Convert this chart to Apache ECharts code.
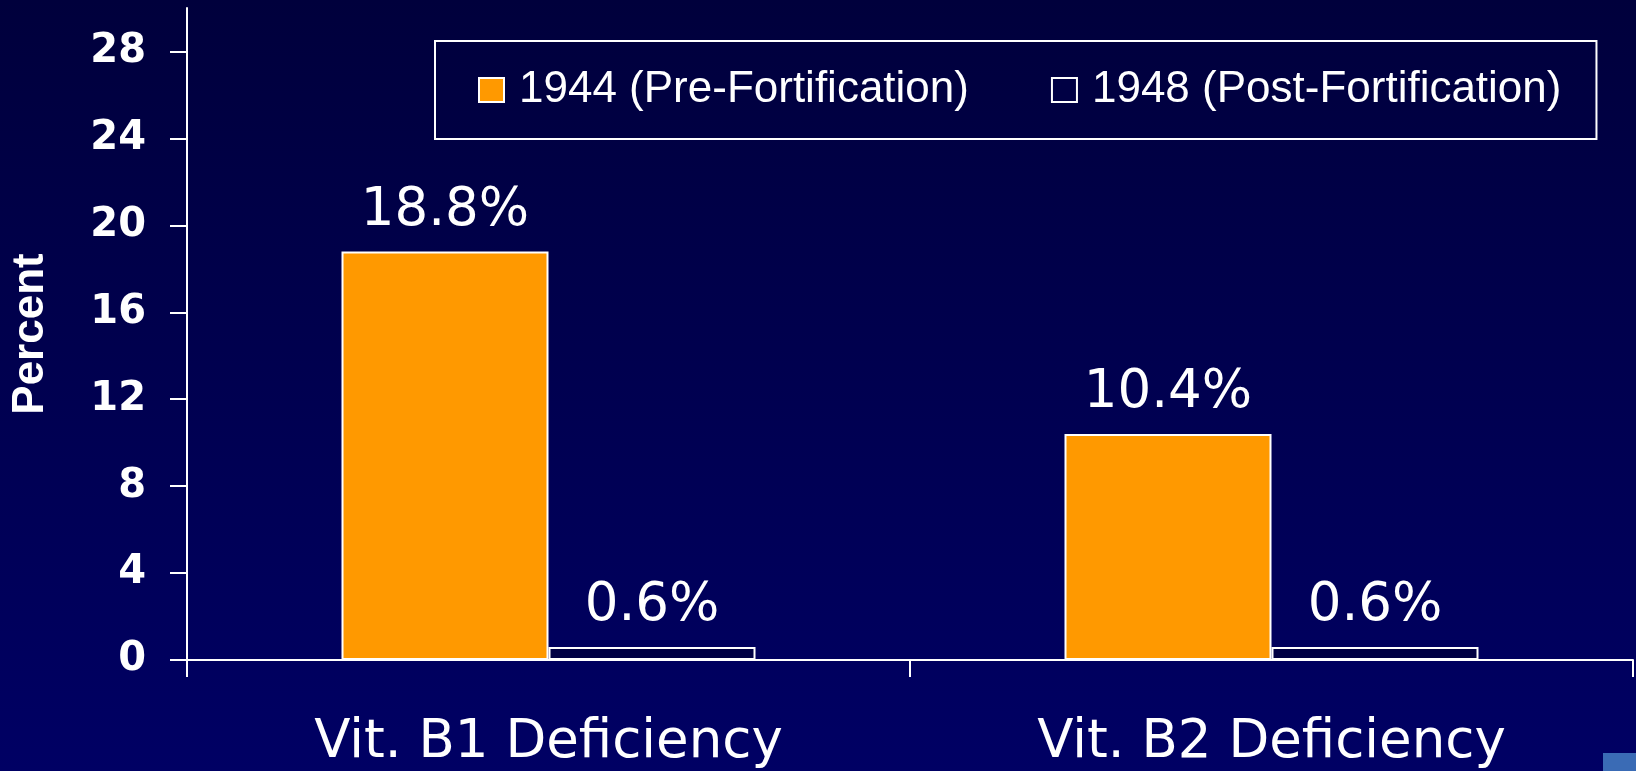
<!DOCTYPE html>
<html>
<head>
<meta charset="utf-8">
<title>Vitamin deficiency before and after fortification</title>
<style>
    html, body { margin: 0; padding: 0; }
    body { background: linear-gradient(to bottom, #00003c, #000064); }
    #main { width: 1636px; height: 771px; }
</style>
</head>
<body>
<div id="main"></div>
<script src="https://cdn.jsdelivr.net/npm/echarts@6/dist/echarts.min.js"></script>
<script type="text/javascript">
    // data
    var categories = ['Vit. B1 Deficiency', 'Vit. B2 Deficiency'];
    var pre1944 = [18.8, 10.4];
    var post1948 = [0.6, 0.6];
    var yTicks = [0, 4, 8, 12, 16, 20, 24, 28];
    var seriesNames = ['1944 (Pre-Fortification)', '1948 (Post-Fortification)'];

    var myChart = echarts.init(document.getElementById('main'));

    var barLabel = {
        show: true,
        position: 'top',
        distance: 14,
        color: '#fff',
        fontFamily: 'DejaVu Sans',
        fontSize: 53,
        formatter: '{c}%'
    };

    var option = {
        backgroundColor: 'transparent',
        animation: false,
        grid: { left: 187, right: 3, top: 8, bottom: 111, outerBoundsMode: 'none', containLabel: false },
        legend: {
            left: 435,
            top: 41,
            padding: [27, 35, 27, 43],
            borderColor: '#fff',
            borderWidth: 2,
            itemWidth: 25,
            itemHeight: 24,
            itemGap: 82,
            icon: 'rect',
            textStyle: {
                color: '#fff',
                fontFamily: 'Liberation Sans',
                fontSize: 44,
                padding: [0, 0, 0, 10]
            },
            data: seriesNames
        },
        xAxis: {
            type: 'category',
            data: categories,
            axisLine: { lineStyle: { color: '#fff', width: 2 } },
            axisTick: { show: true, length: 17, lineStyle: { color: '#fff', width: 2 } },
            axisLabel: {
                color: '#fff',
                fontFamily: 'DejaVu Sans',
                fontSize: 53,
                margin: 57
            }
        },
        yAxis: {
            type: 'value',
            min: 0,
            max: 30,
            interval: 4,
            name: 'Percent',
            nameLocation: 'middle',
            nameRotate: 90,
            nameGap: 134,
            nameTextStyle: {
                color: '#fff',
                fontFamily: 'Liberation Sans',
                fontWeight: 'bold',
                fontSize: 44
            },
            splitLine: { show: false },
            axisLine: { show: true, lineStyle: { color: '#fff', width: 2 } },
            axisTick: {
                show: true,
                length: 17,
                customValues: yTicks,
                lineStyle: { color: '#fff', width: 2 }
            },
            axisLabel: {
                customValues: yTicks,
                color: '#fff',
                fontFamily: 'DejaVu Sans',
                fontWeight: 'bold',
                fontSize: 40,
                margin: 41
            }
        },
        graphic: [
            {
                type: 'rect',
                shape: { x: 1603, y: 753, width: 33, height: 18 },
                style: { fill: '#3a6bb5' },
                silent: true
            }
        ],
        series: [
            {
                name: seriesNames[0],
                type: 'bar',
                data: pre1944,
                barWidth: 207,
                barGap: '0%',
                itemStyle: { color: '#ff9900', borderColor: '#fff', borderWidth: 2 },
                label: barLabel
            },
            {
                name: seriesNames[1],
                type: 'bar',
                data: post1948,
                barWidth: 207,
                barGap: '0%',
                itemStyle: { color: '#000044', borderColor: '#fff', borderWidth: 2 },
                label: barLabel
            }
        ]
    };

    myChart.setOption(option);
</script>
</body>
</html>
